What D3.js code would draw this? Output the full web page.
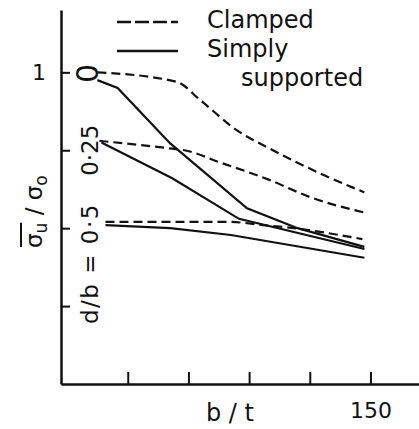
<!DOCTYPE html>
<html lang="en">
<head>
<meta charset="UTF-8">
<title>Ultimate strength vs b/t</title>
<script src="https://cdnjs.cloudflare.com/ajax/libs/d3/7.8.5/d3.min.js"></script>
<style>
  body { margin: 0; background: #fff; }
  svg { display: block; }
  text { font-family: "DejaVu Sans", sans-serif; fill: #111; }
</style>
</head>
<body>
<svg id="chart"></svg>
<script>
// values: [b/t, sigma_u / sigma_o]
const clamped0   = [[15, 1.0], [54, 0.97], [66, 0.91], [84, 0.814], [100, 0.756], [125, 0.676], [147, 0.615]];
const simply0    = [[15, 0.975], [25, 0.95], [51, 0.772], [89, 0.564], [114, 0.50], [147, 0.44]];
const clamped025 = [[16, 0.78], [52, 0.755], [58, 0.75], [76, 0.71], [100, 0.655], [120, 0.60], [147, 0.55]];
const simply025  = [[17, 0.775], [52, 0.66], [85, 0.53], [147, 0.433]];
const clamped05  = [[19, 0.52], [80, 0.52], [97, 0.51], [112, 0.50], [146, 0.465]];
const simply05   = [[19, 0.51], [51, 0.50], [81, 0.478], [147, 0.405]];

const xTicks = [30, 60, 90, 120, 150];
const yTicks = [0.25, 0.5, 0.75, 1];
const ratioLabels = [{v: 1, text: "0"}, {v: 0.75, text: "0·25"}, {v: 0.5, text: "0·5", prefix: "d/b = "}];

const W = 419, H = 429;
const svg = d3.select("#chart").attr("width", W).attr("height", H);

const x = d3.scaleLinear().domain([-3, 174]).range([61, 419]);
const y = d3.scaleLinear().domain([0, 1.2]).range([384, 10]);

// axes, ticks pointing inwards
const xAxis = d3.axisBottom(x)
    .tickValues(xTicks)
    .tickSizeInner(-12)
    .tickSizeOuter(0)
    .tickPadding(18)
    .tickFormat(d => d === 150 ? "150" : "");
svg.append("g")
    .attr("transform", `translate(0,${y(0)})`)
    .call(xAxis);

const yAxis = d3.axisLeft(y)
    .tickValues(yTicks)
    .tickSizeInner(-9)
    .tickSizeOuter(0)
    .tickPadding(15)
    .tickFormat(d => d === 1 ? "1" : "");
svg.append("g")
    .attr("transform", `translate(${x(-3)},0)`)
    .call(yAxis);

svg.selectAll(".domain").attr("stroke", "#111").attr("stroke-width", 2.5);
svg.selectAll(".tick line").attr("stroke", "#111").attr("stroke-width", 2);
svg.selectAll(".tick text")
    .style("font-family", "DejaVu Sans, sans-serif")
    .style("font-size", "22px")
    .attr("fill", "#111");

// axis titles
svg.append("text")
    .attr("x", 230).attr("y", 421)
    .attr("text-anchor", "middle")
    .style("font-size", "24px")
    .text("b / t");

const yg = svg.append("g").attr("transform", "translate(42,248) rotate(-90)");
const yt = yg.append("text").style("font-size", "23px");
const s1 = yt.append("tspan").text("σ");
const s2 = yt.append("tspan").attr("dy", 5).style("font-size", "17px").text("u");
yt.append("tspan").attr("dy", -5).text(" / σ");
yt.append("tspan").attr("dy", 5).style("font-size", "17px").text("o");
const barLen = s1.node().getComputedTextLength() + s2.node().getComputedTextLength();
yg.append("line")
    .attr("x1", 1).attr("x2", barLen)
    .attr("y1", -21).attr("y2", -21)
    .attr("stroke", "#111").attr("stroke-width", 2);

// curves
const line = d3.line().x(d => x(d[0])).y(d => y(d[1]));
const smooth = d3.line().x(d => x(d[0])).y(d => y(d[1])).curve(d3.curveMonotoneX);

const series = [
    {data: clamped0, dash: true},
    {data: simply0, dash: false},
    {data: clamped025, dash: true},
    {data: simply025, dash: false},
    {data: clamped05, dash: true},
    {data: simply05, dash: false}
];

svg.append("g").selectAll("path")
    .data(series)
    .join("path")
    .attr("d", d => d.dash ? smooth(d.data) : line(d.data))
    .attr("fill", "none")
    .attr("stroke", "#111")
    .attr("stroke-width", 2.2)
    .attr("stroke-dasharray", d => d.dash ? "9,5" : null);

// d/b labels along the axis
ratioLabels.forEach(l => {
    const t = svg.append("text")
        .attr("transform", `translate(98,${y(l.v)}) rotate(-90)`)
        .style("font-size", "23px");
    if (l.prefix) {
        t.attr("text-anchor", "end").attr("dx", 25)
            .style("letter-spacing", "1.5px")
            .text(l.prefix + l.text);
    } else if (l.v === 1) {
        t.attr("text-anchor", "middle").attr("dx", -1)
            .style("font-size", "30px")
            .text(l.text);
    } else {
        t.attr("text-anchor", "middle").text(l.text);
    }
});

// legend
const legend = [
    {label: "Clamped", dash: true, ly: 22, tx: 207, ty: 28},
    {label: "Simply", dash: false, ly: 51, tx: 207, ty: 57},
    {label: "supported", dash: null, tx: 241, ty: 86}
];
legend.forEach(l => {
    if (l.dash !== null) {
        svg.append("line")
            .attr("x1", 117).attr("x2", 178)
            .attr("y1", l.ly).attr("y2", l.ly)
            .attr("stroke", "#111")
            .attr("stroke-width", 2.5)
            .attr("stroke-dasharray", l.dash ? "14,4" : null);
    }
    svg.append("text")
        .attr("x", l.tx).attr("y", l.ty)
        .style("font-size", "24px")
        .text(l.label);
});
</script>
</body>
</html>
